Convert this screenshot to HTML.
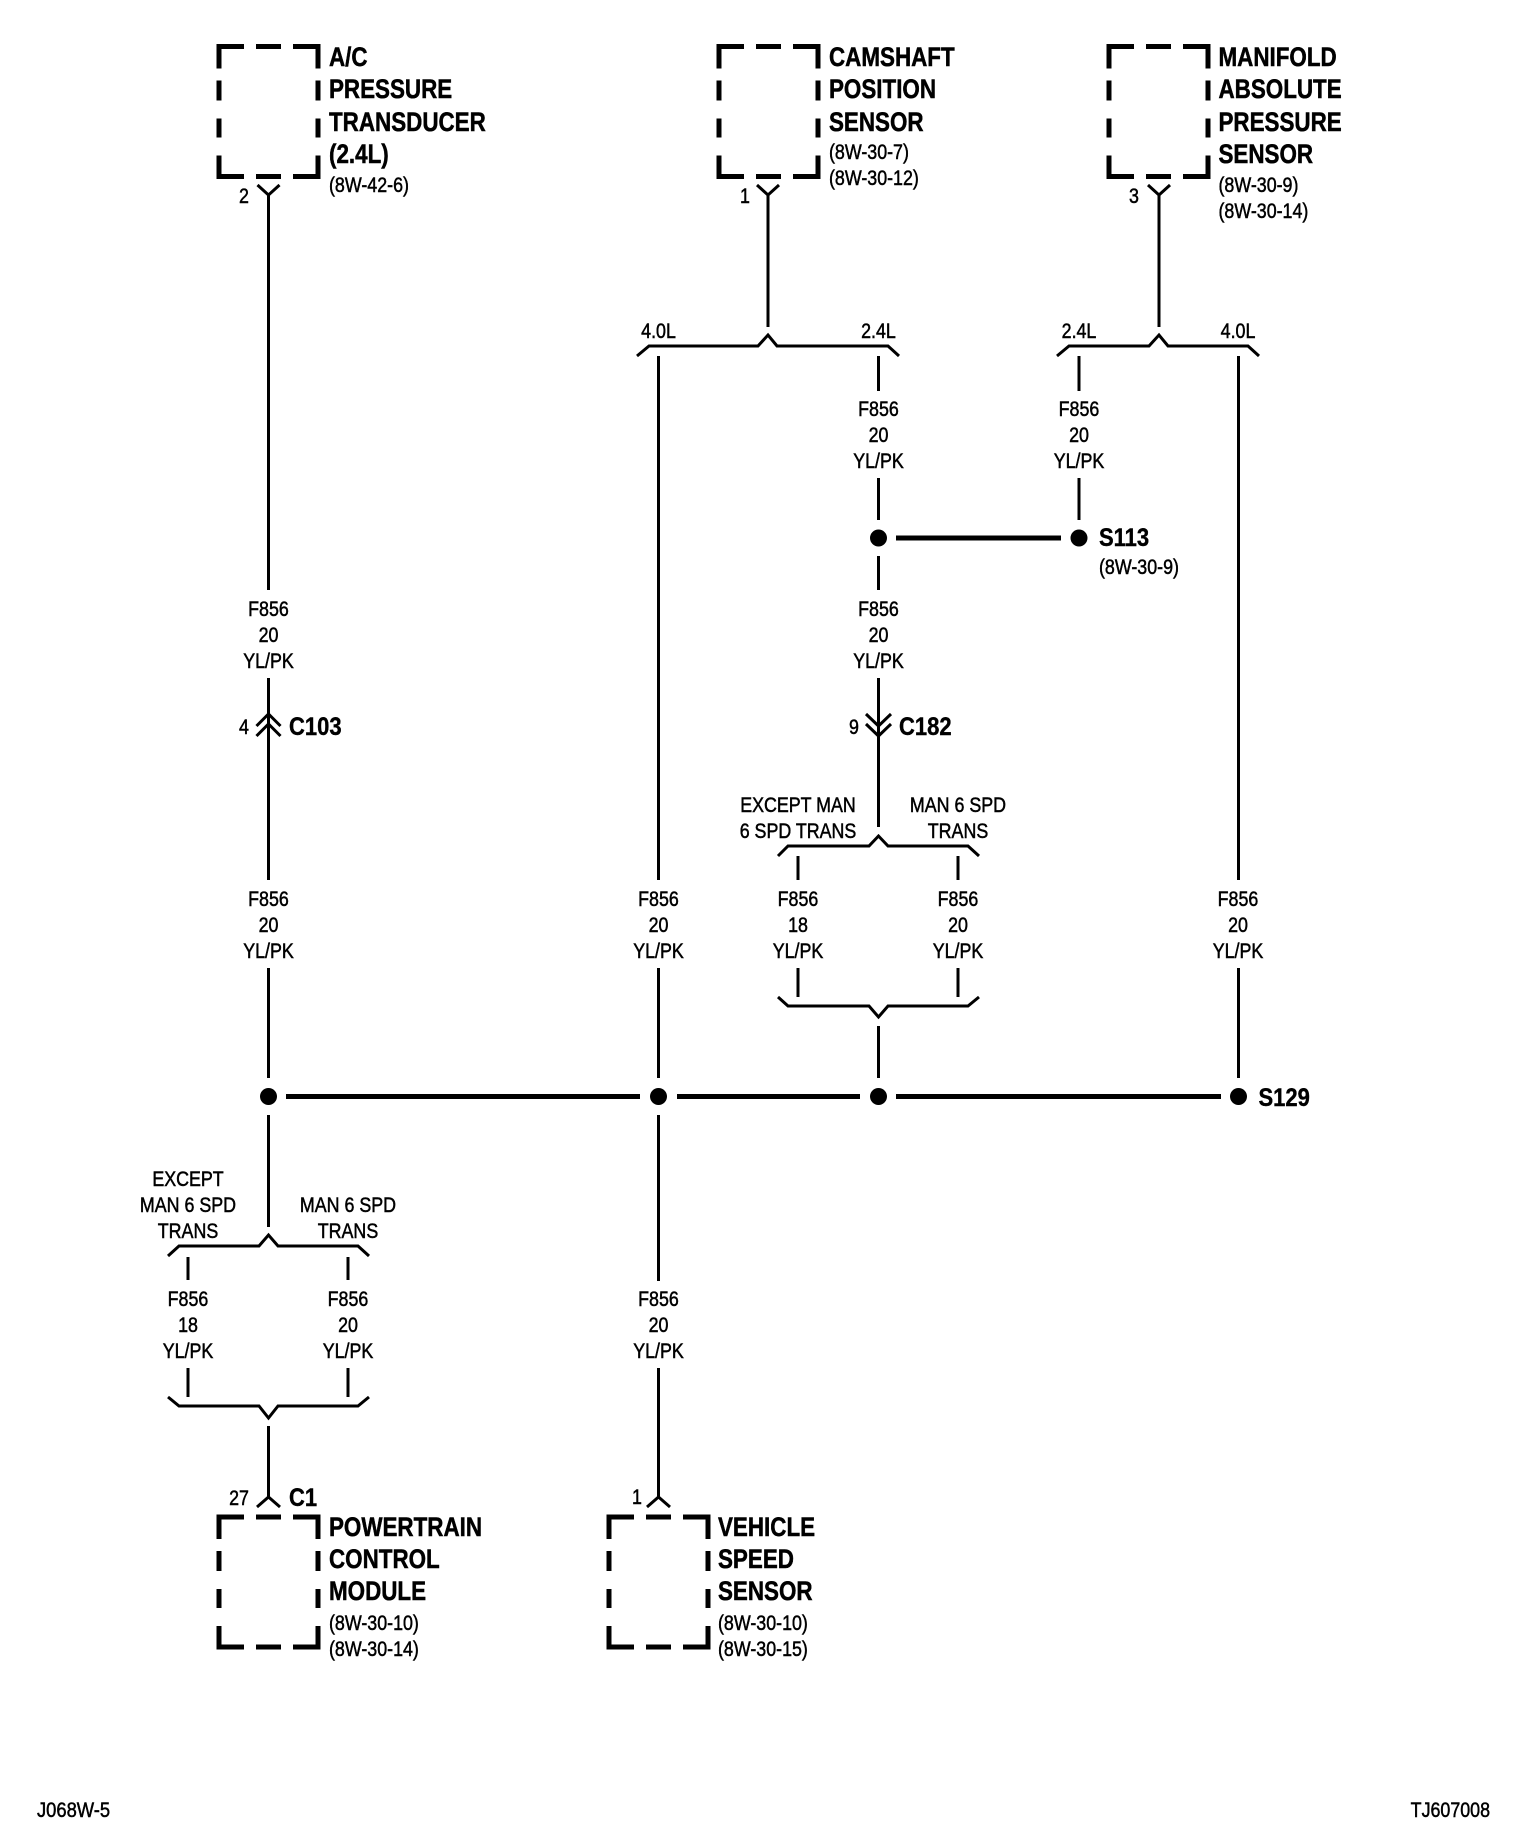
<!DOCTYPE html>
<html><head><meta charset="utf-8"><style>
html,body{margin:0;padding:0;background:#fff;width:1520px;height:1840px;overflow:hidden}
svg{display:block}
text{fill:#000;font-family:"Liberation Sans",Arial,sans-serif;transform-box:fill-box}
.r{font-size:21px;stroke:#000;stroke-width:.5px;transform:scaleX(.85)}
.f{font-size:21px;stroke:#000;stroke-width:.5px;transform:scaleX(.875)}
.b{font-size:27px;font-weight:bold;stroke:#000;stroke-width:.5px;transform:scaleX(.83)}
.s{font-size:25px;font-weight:bold;stroke:#000;stroke-width:.4px;transform:scaleX(.88)}
.m{text-anchor:middle;transform-origin:center}
.l{text-anchor:start;transform-origin:left}
.e{text-anchor:end;transform-origin:right}
.w{fill:none;stroke:#000;stroke-width:3}
.t{fill:none;stroke:#000;stroke-width:5}
</style></head><body>
<svg width="1520" height="1840" viewBox="0 0 1520 1840" xmlns="http://www.w3.org/2000/svg">
<rect width="1520" height="1840" fill="#fff"/>
<defs>
<path id="box" d="M0 22V0H25M37 0H62M74 0H99V22M0 34V54M0 72V91M0 109V130H25M37 130H62M74 130H99V109M99 91V72M99 54V34" fill="none" stroke="#000" stroke-width="5"/>
</defs>
<use href="#box" x="219" y="46.5"/>
<use href="#box" x="719" y="46.5"/>
<use href="#box" x="1109" y="46.5"/>
<use href="#box" x="219" y="1517"/>
<use href="#box" x="609" y="1517"/>

<g class="w">
<!-- top forks -->
<path d="M257.5 185L268.5 195L279.5 185M268.5 195V590M268.5 678V880M268.5 968V1078M268.5 1115V1227"/>
<path d="M757 185L768 195L779 185M768 195V327"/>
<path d="M1148 185L1159 195L1170 185M1159 195V327"/>
<!-- top brackets -->
<path d="M637 356L649 346H758L768 335L777 346H888L899 356"/>
<path d="M1057 356L1069 346H1149L1159 335L1168 346H1248L1259 356"/>
<!-- verticals -->
<path d="M658.5 356V880M658.5 968V1078M658.5 1115V1281M658.5 1368V1497"/>
<path d="M878.5 356V391M878.5 478V520M878.5 556V590M878.5 678V827"/>
<path d="M1079 356V391M1079 478V520"/>
<path d="M1238.5 356V880M1238.5 968V1078"/>
<!-- C103 / C182 -->
<path d="M256.5 726L268.5 714L280.5 726M256.5 736L268.5 724L280.5 736"/>
<path d="M866 714L878.5 726L891 714M866 724L878.5 736L891 724"/>
<!-- mid brackets -->
<path d="M778 856L788 846H869L878.5 836L888 846H968L979 856"/>
<path d="M798 856V880M958 856V880M798 968V997M958 968V997"/>
<path d="M778 997L788 1006H869L878.5 1017L888 1006H968L979 997"/>
<path d="M878.5 1026V1078"/>
<!-- lower left -->
<path d="M168 1256L179 1246H259L268.5 1235L278 1246H358L369 1256"/>
<path d="M188 1257V1280M348 1257V1280M188 1368V1397M348 1368V1397"/>
<path d="M168 1397L179 1406H259L268.5 1418L278 1406H358L369 1397"/>
<path d="M268.5 1426V1497M257 1507L268.5 1497L280 1507"/>
<path d="M647 1507L658.5 1497L670 1507"/>
</g>
<g class="t">
<path d="M896 538H1061"/>
<path d="M286 1096.5H640M677 1096.5H860M896 1096.5H1221"/>
</g>
<g fill="#000">
<circle cx="878.5" cy="538" r="8.5"/><circle cx="1079" cy="538" r="8.5"/>
<circle cx="268.5" cy="1096.5" r="8.5"/><circle cx="658.5" cy="1096.5" r="8.5"/><circle cx="878.5" cy="1096.5" r="8.5"/><circle cx="1238.5" cy="1096.5" r="8.5"/>
</g>

<!-- A/C -->
<text class="b l" x="329" y="66">A/C</text>
<text class="b l" x="329" y="98">PRESSURE</text>
<text class="b l" x="329" y="131">TRANSDUCER</text>
<text class="b l" x="329" y="163">(2.4L)</text>
<text class="r l" x="329" y="192">(8W-42-6)</text>
<text class="r m" x="244" y="203">2</text>
<!-- Camshaft -->
<text class="b l" x="829" y="66">CAMSHAFT</text>
<text class="b l" x="829" y="98">POSITION</text>
<text class="b l" x="829" y="131">SENSOR</text>
<text class="r l" x="829" y="159">(8W-30-7)</text>
<text class="r l" x="829" y="185">(8W-30-12)</text>
<text class="r m" x="745" y="203">1</text>
<!-- MAP -->
<text class="b l" x="1218.5" y="66">MANIFOLD</text>
<text class="b l" x="1218.5" y="98">ABSOLUTE</text>
<text class="b l" x="1218.5" y="131">PRESSURE</text>
<text class="b l" x="1218.5" y="163">SENSOR</text>
<text class="r l" x="1218.5" y="192">(8W-30-9)</text>
<text class="r l" x="1218.5" y="218">(8W-30-14)</text>
<text class="r m" x="1134" y="203">3</text>

<text class="r m" x="658.5" y="338">4.0L</text>
<text class="r m" x="878.5" y="338">2.4L</text>
<text class="r m" x="1079" y="338">2.4L</text>
<text class="r m" x="1238" y="338">4.0L</text>

<text class="r m" x="878.5" y="416">F856</text><text class="r m" x="878.5" y="442">20</text><text class="r m" x="878.5" y="468">YL/PK</text>
<text class="r m" x="1079" y="416">F856</text><text class="r m" x="1079" y="442">20</text><text class="r m" x="1079" y="468">YL/PK</text>
<text class="s l" x="1099" y="546">S113</text>
<text class="r l" x="1099" y="574">(8W-30-9)</text>

<text class="r m" x="268.5" y="616">F856</text><text class="r m" x="268.5" y="642">20</text><text class="r m" x="268.5" y="668">YL/PK</text>
<text class="r m" x="878.5" y="616">F856</text><text class="r m" x="878.5" y="642">20</text><text class="r m" x="878.5" y="668">YL/PK</text>

<text class="r m" x="244" y="734">4</text>
<text class="s l" x="289" y="735">C103</text>
<text class="r m" x="854" y="734">9</text>
<text class="s l" x="899" y="735">C182</text>

<text class="r m" x="798" y="812">EXCEPT MAN</text>
<text class="r m" x="798" y="838">6 SPD TRANS</text>
<text class="r m" x="958" y="812">MAN 6 SPD</text>
<text class="r m" x="958" y="838">TRANS</text>

<text class="r m" x="268.5" y="906">F856</text><text class="r m" x="268.5" y="932">20</text><text class="r m" x="268.5" y="958">YL/PK</text>
<text class="r m" x="658.5" y="906">F856</text><text class="r m" x="658.5" y="932">20</text><text class="r m" x="658.5" y="958">YL/PK</text>
<text class="r m" x="798" y="906">F856</text><text class="r m" x="798" y="932">18</text><text class="r m" x="798" y="958">YL/PK</text>
<text class="r m" x="958" y="906">F856</text><text class="r m" x="958" y="932">20</text><text class="r m" x="958" y="958">YL/PK</text>
<text class="r m" x="1238" y="906">F856</text><text class="r m" x="1238" y="932">20</text><text class="r m" x="1238" y="958">YL/PK</text>

<text class="s l" x="1258.5" y="1106">S129</text>

<text class="r m" x="188" y="1186">EXCEPT</text>
<text class="r m" x="188" y="1212">MAN 6 SPD</text>
<text class="r m" x="188" y="1238">TRANS</text>
<text class="r m" x="348" y="1212">MAN 6 SPD</text>
<text class="r m" x="348" y="1238">TRANS</text>

<text class="r m" x="188" y="1306">F856</text><text class="r m" x="188" y="1332">18</text><text class="r m" x="188" y="1358">YL/PK</text>
<text class="r m" x="348" y="1306">F856</text><text class="r m" x="348" y="1332">20</text><text class="r m" x="348" y="1358">YL/PK</text>
<text class="r m" x="658.5" y="1306">F856</text><text class="r m" x="658.5" y="1332">20</text><text class="r m" x="658.5" y="1358">YL/PK</text>

<text class="r m" x="239" y="1505">27</text>
<text class="s l" x="289" y="1506">C1</text>
<text class="r m" x="637" y="1504">1</text>

<text class="b l" x="329" y="1536">POWERTRAIN</text>
<text class="b l" x="329" y="1568">CONTROL</text>
<text class="b l" x="329" y="1600">MODULE</text>
<text class="r l" x="329" y="1630">(8W-30-10)</text>
<text class="r l" x="329" y="1656">(8W-30-14)</text>

<text class="b l" x="718" y="1536">VEHICLE</text>
<text class="b l" x="718" y="1568">SPEED</text>
<text class="b l" x="718" y="1600">SENSOR</text>
<text class="r l" x="718" y="1630">(8W-30-10)</text>
<text class="r l" x="718" y="1656">(8W-30-15)</text>

<text class="f l" x="37" y="1817">J068W-5</text>
<text class="r e" x="1490" y="1817">TJ607008</text>
</svg>
</body></html>
